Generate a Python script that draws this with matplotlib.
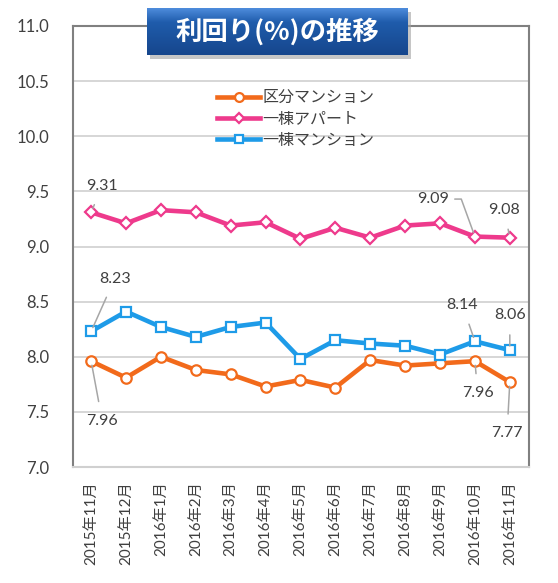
import matplotlib
matplotlib.use("Agg")
import matplotlib.pyplot as plt
import numpy as np
from matplotlib.patches import Rectangle

plt.rcParams['font.family'] = ['Lato', 'Noto Sans CJK JP', 'DejaVu Sans']

# Data
months = ["2015年11月", "2015年12月", "2016年1月", "2016年2月", "2016年3月",
          "2016年4月", "2016年5月", "2016年6月", "2016年7月", "2016年8月",
          "2016年9月", "2016年10月", "2016年11月"]
kubun = [7.96, 7.81, 8.00, 7.88, 7.84, 7.73, 7.79, 7.72, 7.97, 7.92, 7.94, 7.96, 7.77]
apart = [9.31, 9.21, 9.33, 9.31, 9.19, 9.22, 9.07, 9.17, 9.08, 9.19, 9.21, 9.09, 9.08]
ittou = [8.23, 8.41, 8.27, 8.18, 8.27, 8.31, 7.98, 8.15, 8.12, 8.10, 8.02, 8.14, 8.06]
series_names = ["区分マンション", "一棟アパート", "一棟マンション"]

c_orange = '#F26A1B'
c_pink = '#EE3A8C'
c_blue = '#1E9BE8'
txt = '#404040'

fig = plt.figure(figsize=(5.58, 5.83), dpi=100)
ax = fig.add_axes([73 / 558, 1 - 467 / 583, 456 / 558, 441 / 583])

x = np.arange(len(months))
ax.plot(x, kubun, color=c_orange, lw=3.3, marker='o', ms=7.5, mfc='white',
        mec=c_orange, mew=1.6, label=series_names[0], zorder=3)
ax.plot(x, apart, color=c_pink, lw=3.3, marker='D', ms=6.5, mfc='white',
        mec=c_pink, mew=1.6, label=series_names[1], zorder=3)
ax.plot(x, ittou, color=c_blue, lw=3.3, marker='s', ms=7.5, mfc='white',
        mec=c_blue, mew=1.6, label=series_names[2], zorder=3)

ax.set_xlim(-0.52, 12.55)
ax.set_ylim(7.0, 11.0)
ax.set_yticks(np.arange(7.0, 11.01, 0.5))
ax.set_yticklabels([f"{v:.1f}" for v in np.arange(7.0, 11.01, 0.5)])
ax.set_xticks(x)
ax.set_xticklabels(months, rotation=90)
ax.tick_params(axis='both', length=0, colors=txt, labelsize=11)
ax.tick_params(axis='y', pad=17, labelsize=12)
ax.tick_params(axis='x', pad=10)
ax.grid(axis='y', color='#D0D0D0', lw=1.2)
ax.set_axisbelow(True)
for s in ['left', 'right', 'top']:
    ax.spines[s].set_color('#808080')
    ax.spines[s].set_linewidth(1.5)
ax.spines['bottom'].set_color('#D0D0D0')
ax.spines['bottom'].set_linewidth(1.5)

leg = ax.legend(loc='upper left', bbox_to_anchor=(209 / 558, 1 - 83 / 583),
                bbox_transform=fig.transFigure, frameon=False, fontsize=11.5,
                handlelength=2.7, handletextpad=0.15, labelspacing=0.45,
                labelcolor=txt, borderpad=0, markerscale=0.85)

# Data labels with leader lines
labels = [
    (0, apart[0], (8, 19), None),
    (11, apart[11], (-30, 27), "angle,angleA=0,angleB=110,rad=0"),
    (12, apart[12], (-4, 20), None),
    (0, ittou[0], (17, 38), None),
    (11, ittou[11], (-9, 26), None),
    (12, ittou[12], (0, 25), None),
    (0, kubun[0], (8, -43), None),
    (11, kubun[11], (2, -23), None),
    (12, kubun[12], (-2, -37), None),
]
for i, v, off, conn in labels:
    props = dict(arrowstyle='-', color='#A6A6A6', lw=1.1, shrinkA=7, shrinkB=3)
    if conn:
        props['connectionstyle'] = conn
        props['shrinkA'] = 2
    ax.annotate(f"{v:.2f}", xy=(i, v), xytext=off, textcoords='offset points',
                ha='center', va='center', fontsize=11.5, color=txt,
                arrowprops=props, zorder=5)

# Title box with gradient and shadow
fig.patches.append(Rectangle((150 / 558, 1 - 59 / 583), 261 / 558, 47 / 583,
                             transform=fig.transFigure, facecolor='#A0A0A0',
                             edgecolor='none', alpha=0.6, zorder=1))
tax = fig.add_axes([147 / 558, 1 - 55 / 583, 261 / 558, 47 / 583])
tax.set_zorder(5)
top = np.array([0x4E, 0x8C, 0xDC]) / 255
mid = np.array([0x1F, 0x5C, 0xAC]) / 255
bot = np.array([0x16, 0x46, 0x8C]) / 255
t = np.linspace(0, 1, 100)[:, None]
grad = np.where(t < 0.3, top + (mid - top) * (t / 0.3),
                mid + (bot - mid) * ((t - 0.3) / 0.7))
tax.imshow(grad[:, None, :].repeat(2, axis=1), aspect='auto',
           extent=(0, 1, 0, 1), origin='upper')
tax.set_xlim(0, 1)
tax.set_ylim(0, 1)
tax.axis('off')
tax.text(0.5, 0.5, "利回り(%)の推移", ha='center', va='center', color='white',
         fontsize=19, fontweight='bold',
         family=['Noto Sans CJK JP', 'DejaVu Sans'])

fig.savefig('out.png', dpi=100)
